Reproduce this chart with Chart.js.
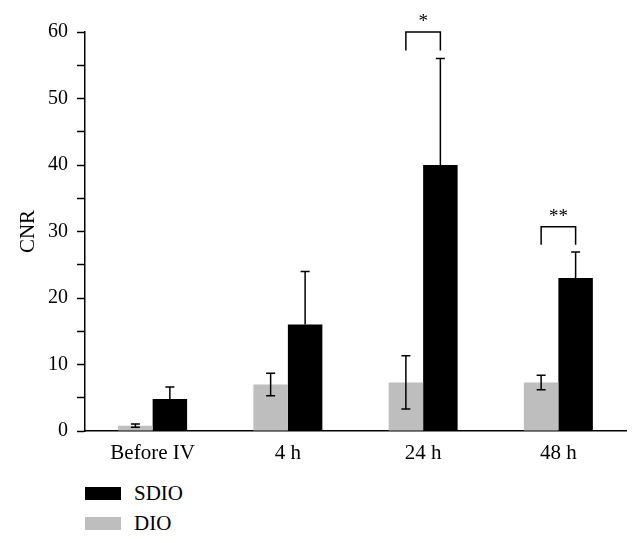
<!DOCTYPE html>
<html>
<head>
<meta charset="utf-8">
<script src="https://cdn.jsdelivr.net/npm/chart.js@4/dist/chart.umd.min.js"></script>
<style>
  body{margin:0;background:#fff;}
  #wrap{position:relative;width:640px;height:543px;overflow:hidden;}
  #legend{position:absolute;left:85px;top:478px;font-family:'Liberation Serif',serif;font-size:21px;color:#000;}
  .item{display:flex;align-items:center;height:30px;}
  .box{width:36px;height:13px;margin-right:13px;}
</style>
</head>
<body>
<div id="wrap">
  <canvas id="chart" width="640" height="466"></canvas>
  <div id="legend"></div>
</div>
<script>
const categories=['Before IV','4 h','24 h','48 h'];
const dioValues=[0.8,7.0,7.3,7.3];
const dioErrors=[0.25,1.7,4.0,1.1];
const sdioValues=[4.8,16.0,40.0,23.0];
const sdioErrors=[1.8,8.0,16.0,3.9];
// significance brackets
const sigIndex=[2,3];
const sigTop=[60,30.7];
const sigLeg=[57.2,28.0];
const sigLabels=['*','**'];

const FONT='Liberation Serif';

// error bars drawn at each bar's centre
const errorBars={
  id:'errorBars',
  afterDatasetsDraw(chart){
    const ctx=chart.ctx, y=chart.scales.y;
    ctx.save(); ctx.strokeStyle='#000'; ctx.lineWidth=1.5;
    chart.data.datasets.forEach((ds,di)=>{
      chart.getDatasetMeta(di).data.forEach((bar,i)=>{
        const v=ds.data[i], e=ds.errors[i];
        const top=y.getPixelForValue(v+e);
        const bot=y.getPixelForValue(ds.errorDown ? v-e : v);
        ctx.beginPath();
        ctx.moveTo(bar.x,top); ctx.lineTo(bar.x,bot);
        ctx.moveTo(bar.x-4.5,top); ctx.lineTo(bar.x+4.5,top);
        if(ds.errorDown){ ctx.moveTo(bar.x-4.5,bot); ctx.lineTo(bar.x+4.5,bot); }
        ctx.stroke();
      });
    });
    ctx.restore();
  }
};

const brackets={
  id:'brackets',
  afterDatasetsDraw(chart){
    const ctx=chart.ctx, y=chart.scales.y;
    const a=chart.getDatasetMeta(0).data, b=chart.getDatasetMeta(1).data;
    ctx.save(); ctx.strokeStyle='#000'; ctx.fillStyle='#000'; ctx.lineWidth=1.5;
    ctx.font='19px "'+FONT+'"'; ctx.textAlign='center'; ctx.textBaseline='alphabetic';
    sigIndex.forEach((idx,k)=>{
      const x1=a[idx].x, x2=b[idx].x;
      const t=y.getPixelForValue(sigTop[k]), l=y.getPixelForValue(sigLeg[k]);
      ctx.beginPath();
      ctx.moveTo(x1,l); ctx.lineTo(x1,t); ctx.lineTo(x2,t); ctx.lineTo(x2,l);
      ctx.stroke();
      ctx.fillText(sigLabels[k],(x1+x2)/2,t-5);
    });
    ctx.restore();
  }
};

const chart=new Chart(document.getElementById('chart'),{
  type:'bar',
  data:{
    labels:categories,
    datasets:[
      {label:'DIO',data:dioValues,errors:dioErrors,errorDown:true,backgroundColor:'#bebebe'},
      {label:'SDIO',data:sdioValues,errors:sdioErrors,errorDown:false,backgroundColor:'#000'}
    ]
  },
  options:{
    responsive:false,
    animation:false,
    layout:{padding:{top:32,right:14,left:0,bottom:0}},
    datasets:{bar:{categoryPercentage:0.51,barPercentage:1}},
    plugins:{legend:{display:false},tooltip:{enabled:false}},
    scales:{
      x:{
        grid:{display:false,drawTicks:false},
        border:{display:true,color:'#000',width:1.5},
        ticks:{color:'#000',padding:10,font:{family:FONT,size:21}},
        afterFit(s){ s.height=35; }
      },
      y:{
        min:0,max:60,
        grid:{drawOnChartArea:false,tickLength:8,tickColor:'#000',tickWidth:1.5},
        border:{color:'#000',width:1.5},
        ticks:{stepSize:5,color:'#000',padding:9,font:{family:FONT,size:20},
          callback:v=>v%10===0 ? v : ''},
        title:{display:true,text:'CNR',color:'#000',font:{family:FONT,size:21},padding:{top:16,bottom:0}},
        afterFit(s){ s.width=85; }
      }
    }
  },
  plugins:[errorBars,brackets]
});

// legend below the chart, SDIO first
const legend=document.getElementById('legend');
chart.data.datasets.slice().reverse().forEach(ds=>{
  const d=document.createElement('div'); d.className='item';
  d.innerHTML=`<span class="box" style="background:${ds.backgroundColor}"></span><span>${ds.label}</span>`;
  legend.appendChild(d);
});
</script>
</body>
</html>
